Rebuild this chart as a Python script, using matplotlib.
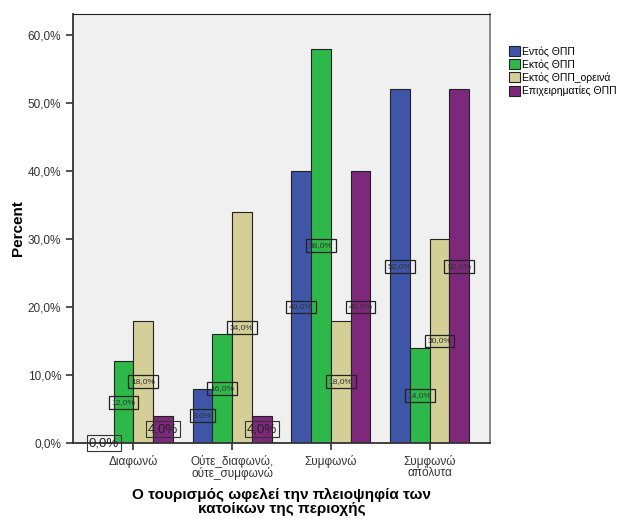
import numpy as np
import matplotlib.pyplot as plt

plt.rcParams['font.family'] = ['Liberation Sans', 'DejaVu Sans']

categories = ['Διαφωνώ', 'Ούτε_διαφωνώ,\nούτε_συμφωνώ', 'Συμφωνώ', 'Συμφωνώ\nαπόλυτα']
series_names = ['Εντός ΘΠΠ', 'Εκτός ΘΠΠ', 'Εκτός ΘΠΠ_ορεινά', 'Επιχειρηματίες ΘΠΠ']
entos = [0, 8, 40, 52]
ektos = [12, 16, 58, 14]
ektos_oreina = [18, 34, 18, 30]
epixeirimaties = [4, 4, 40, 52]
yticks = [0, 10, 20, 30, 40, 50, 60]

colors = ['#3F56A8', '#2FB84A', '#D3CF96', '#7E287C']
all_series = [entos, ektos, ektos_oreina, epixeirimaties]

fig = plt.figure(figsize=(6.24, 5.19), dpi=100)
ax = fig.add_axes([0.117, 0.1464, 0.668, 0.8266])
ax.set_facecolor('#F0F0F0')

x = np.arange(len(categories))
w = 0.2
for i, (vals, col, name) in enumerate(zip(all_series, colors, series_names)):
    pos = x + (i - 1.5) * w
    ax.bar(pos, vals, width=w, color=col, edgecolor='#222222', linewidth=0.8, label=name, zorder=2)
    for px, v in zip(pos, vals):
        txt = ('%.1f%%' % v).replace('.', ',')
        if v <= 4:
            # small values: bigger label
            ax.text(px, v / 2, txt, ha='center', va='center', fontsize=9.5, color='#222222', zorder=4,
                    bbox=dict(boxstyle='square,pad=0.15', fc='none', ec='#333333', lw=0.8))
        else:
            ax.text(px, v / 2, txt, ha='center', va='center', fontsize=6, color='#333333', zorder=4,
                    bbox=dict(boxstyle='square,pad=0.35', fc='none', ec='#222222', lw=0.9))

ax.set_xlim(-0.61, 3.61)
ax.set_ylim(0, 63.1)
ax.set_yticks(yticks)
ax.set_yticklabels([('%.1f%%' % t).replace('.', ',') for t in yticks], fontsize=8.5, color='#333333')
ax.set_xticks(x)
ax.set_xticklabels(categories, fontsize=8.5, color='#333333', linespacing=0.9)
ax.tick_params(axis='both', direction='out', length=5, width=1.2, color='#333333')

for s in ['left', 'bottom']:
    ax.spines[s].set_linewidth(1.3)
    ax.spines[s].set_color('#333333')
ax.spines['top'].set_color('#222222')
ax.spines['right'].set_color('#777777')
ax.spines['right'].set_linewidth(1.2)

ax.set_ylabel('Percent', fontsize=11, fontweight='bold', labelpad=2)
ax.set_xlabel('Ο τουρισμός ωφελεί την πλειοψηφία των\nκατοίκων της περιοχής', fontsize=11,
              fontweight='bold', labelpad=6, linespacing=1.0)

leg = ax.legend(loc='upper left', bbox_to_anchor=(1.037, 0.935), frameon=False, fontsize=7.5,
                handlelength=1.0, handleheight=1.1, handletextpad=0.25, labelspacing=0.25,
                borderaxespad=0)

fig.savefig('out.png', dpi=100)
